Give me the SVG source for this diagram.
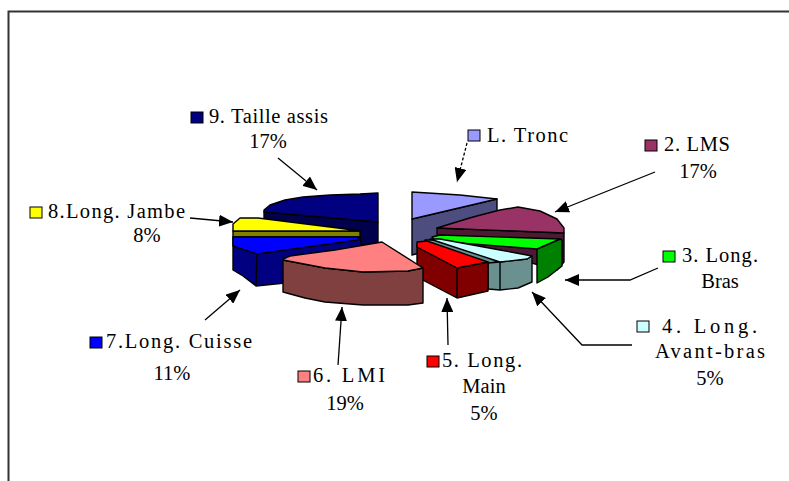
<svg xmlns="http://www.w3.org/2000/svg" width="789" height="481" viewBox="0 0 789 481">
<defs>
<style>
.t{font-family:'Liberation Serif','Times New Roman',serif;font-size:20.5px;fill:#000}
.c{text-anchor:middle}
.p{stroke:#000;stroke-width:1.4;stroke-linejoin:round}
.sq{stroke:#000;stroke-width:1}
.a{fill:none;stroke:#000;stroke-width:1.3;marker-end:url(#ah)}
</style>
<marker id="ah" markerUnits="userSpaceOnUse" viewBox="0 0 14 12" refX="14" refY="6" markerWidth="14" markerHeight="12" orient="auto">
<path d="M0,0 L14,6 L0,12 Z" fill="#000"/>
</marker>
</defs>
<rect width="789" height="481" fill="#fff"/>
<path d="M8.5,481 V11.5 H789" fill="none" stroke="#333" stroke-width="2"/>

<g id="pie">
<g id="slice-taille">
<polygon class="p" fill="#00004D" points="264,212 378,222 378,246 264,240"/>
<polygon class="p" fill="#000080" points="264,210 270,205 285,200 303,197 330,195 360,194 378,193 378,222 264,212"/>
</g>
<g id="slice-tronc">
<polygon class="p" fill="#4D4D80" points="412,219 497,199 497,232 412,255"/>
<polygon class="p" fill="#9999FF" points="412,192 460,195 497,199 412,219"/>
</g>
<g id="slice-lms">
<polygon class="p" fill="#4D1A33" points="437,228 564,233 564,262 557,270 437,237"/>
<polygon class="p" fill="#993366" points="437,228 450,224 473,217 500,210 518,207 540,211 557,219 564,228 564,233"/>
</g>
<g id="slice-jambe">
<polygon class="p" fill="#808000" points="233,231 360,231 360,237 233,237"/>
<polygon class="p" fill="#FFFF00" points="233,224 240,218 258,218 338,228 360,231 233,231"/>
</g>
<g id="slice-cuisse">
<polygon class="p" fill="#000080" points="233,237 360,237 362,250 285,283 256,286 243,276 233,270"/>
<polygon class="p" fill="#0000FF" points="233,237 358,237 358,240 257,254 233,246"/>
<line class="p" x1="257" y1="254" x2="256" y2="286"/>
</g>
<g id="slice-bras">
<polygon class="p" fill="#008000" points="537,249 560,239 562,240 562,266 548,277 537,283"/>
<polygon class="p" fill="#00FF00" points="432,237 440,235 560,239 537,249 435,241"/>
</g>
<g id="slice-avantbras">
<polygon class="p" fill="#6A9090" points="425,240 440,240 500,261 488,264 425,246"/>
<polygon class="p" fill="#6A9090" points="488,263 500,262 527,259 532,256 532,282 518,288 500,290 488,289"/>
<polygon class="p" fill="#CCFFFF" points="430,239 440,239 500,250 532,256 527,259 500,262 442,243"/>
<line class="p" x1="500" y1="262" x2="500" y2="290"/>
</g>
<g id="slice-main">
<polygon class="p" fill="#800000" points="417,245 457,268 488,262 488,291 457,298 417,277"/>
<polygon class="p" fill="#FF0000" points="417,242 427,241 488,262 457,268 417,247"/>
<line class="p" x1="457" y1="268" x2="457" y2="298"/>
</g>
<g id="slice-lmi">
<polygon class="p" fill="#804040" points="283,260 325,268 363,272 408,271 423,268 423,303 408,305 363,305 325,302 305,298 283,292"/>
<polygon class="p" fill="#FF8080" points="283,259 290,256 335,250 382,242 423,268 408,271 363,272 325,268 283,260"/>
</g>
</g>

<g id="connectors">
<path class="a" d="M278,158 L317,190"/>
<path class="a" d="M190,218 L233,222"/>
<path class="a" d="M467,143 L457,182" stroke-dasharray="3,2"/>
<path class="a" d="M655,172 L555,212"/>
<path class="a" d="M658,268 L630,280 L565,280"/>
<path class="a" d="M632,345 L582,345 L532,292"/>
<path class="a" d="M448,345 L447,298"/>
<path class="a" d="M338,365 L342,307"/>
<path class="a" d="M205,320 L240,290"/>
</g>

<g id="label-taille">
<rect class="sq" x="191" y="112" width="12" height="11" fill="#000080"/>
<text class="t" x="209" y="123" textLength="119" lengthAdjust="spacing">9. Taille assis</text>
<text class="t c" x="268" y="148">17%</text>
</g>
<g id="label-jambe">
<rect class="sq" x="30" y="207" width="12" height="11" fill="#FFFF00"/>
<text class="t" x="48" y="218" textLength="137" lengthAdjust="spacing">8.Long. Jambe</text>
<text class="t c" x="147" y="242">8%</text>
</g>
<g id="label-tronc">
<rect class="sq" x="468" y="130" width="12" height="11" fill="#9999FF"/>
<text class="t" x="487" y="142" textLength="81" lengthAdjust="spacing">L. Tronc</text>
</g>
<g id="label-lms">
<rect class="sq" x="645" y="140" width="12" height="11" fill="#993366"/>
<text class="t" x="664" y="151" textLength="66" lengthAdjust="spacing">2. LMS</text>
<text class="t c" x="698" y="178">17%</text>
</g>
<g id="label-bras">
<rect class="sq" x="663" y="251" width="12" height="11" fill="#00FF00"/>
<text class="t" x="682" y="262" textLength="76" lengthAdjust="spacing">3. Long.</text>
<text class="t c" x="720" y="288">Bras</text>
</g>
<g id="label-avantbras">
<rect class="sq" x="637" y="321" width="12" height="11" fill="#CCFFFF"/>
<text class="t" x="662" y="333" textLength="95" lengthAdjust="spacing">4. Long.</text>
<text class="t" x="655" y="358" textLength="110" lengthAdjust="spacing">Avant-bras</text>
<text class="t c" x="710" y="385">5%</text>
</g>
<g id="label-main">
<rect class="sq" x="427" y="356" width="12" height="11" fill="#FF0000"/>
<text class="t" x="442" y="367" textLength="80" lengthAdjust="spacing">5. Long.</text>
<text class="t c" x="484" y="393">Main</text>
<text class="t c" x="484" y="420">5%</text>
</g>
<g id="label-lmi">
<rect class="sq" x="298" y="371" width="12" height="11" fill="#FF8080"/>
<text class="t" x="313" y="382" textLength="72" lengthAdjust="spacing">6. LMI</text>
<text class="t c" x="345" y="410">19%</text>
</g>
<g id="label-cuisse">
<rect class="sq" x="90" y="337" width="12" height="11" fill="#0000FF"/>
<text class="t" x="106" y="348" textLength="146" lengthAdjust="spacing">7.Long. Cuisse</text>
<text class="t c" x="172" y="380">11%</text>
</g>
</svg>
